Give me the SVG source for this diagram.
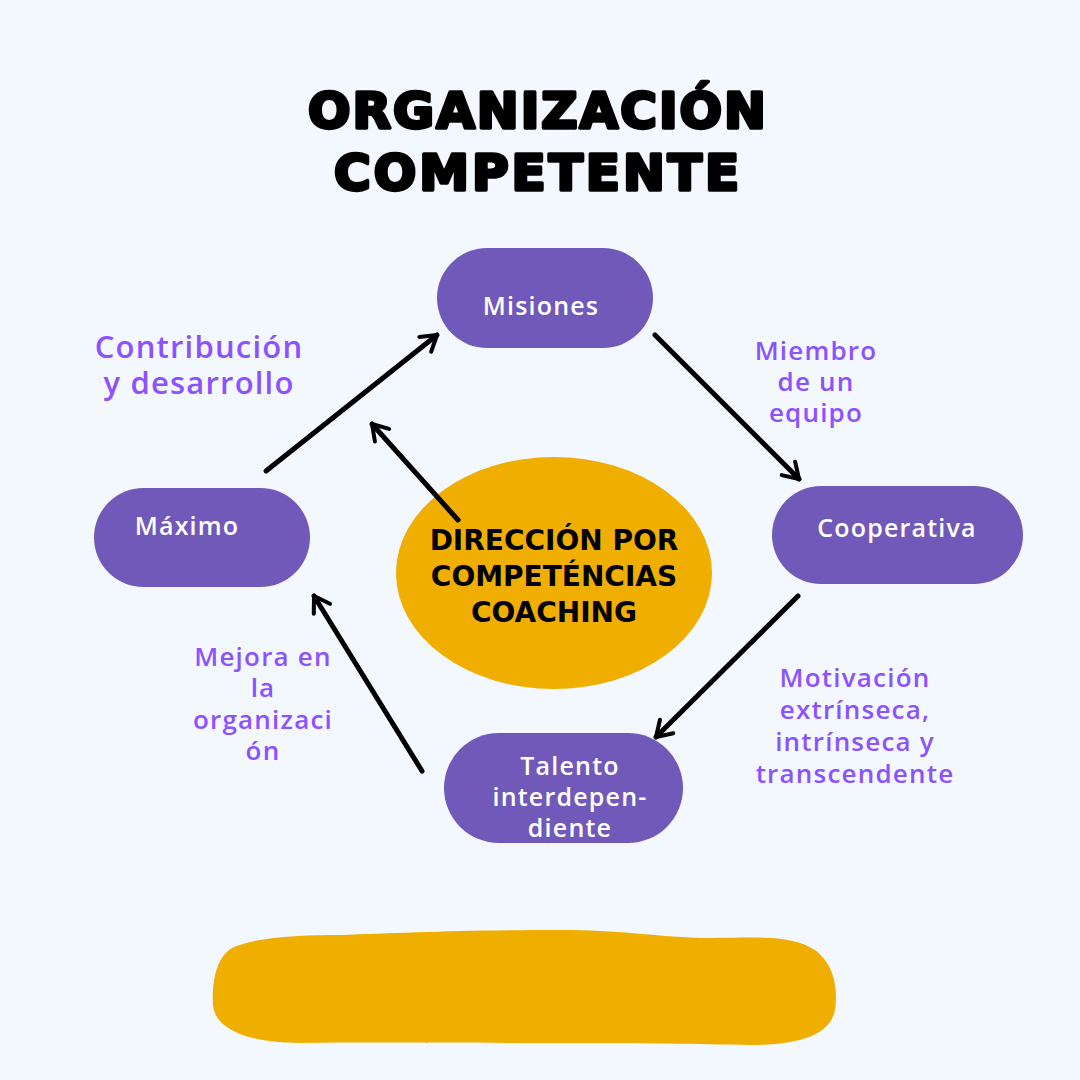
<svg xmlns="http://www.w3.org/2000/svg" width="1080" height="1080" viewBox="0 0 1080 1080">
<style>
.title{font-family:"DejaVu Sans","Liberation Sans",sans-serif;font-weight:bold;font-size:50px;fill:#000;stroke:#000;stroke-width:3.5;stroke-linejoin:round;text-anchor:middle;letter-spacing:2px}
.node{fill:#7159BA}
.nt{font-family:"Open Sans","Liberation Sans",sans-serif;font-size:25px;fill:#fff;text-anchor:middle;font-weight:600;letter-spacing:1.2px}
.lbl{font-family:"Open Sans","Liberation Sans",sans-serif;font-size:26px;fill:#8C52FF;text-anchor:middle;font-weight:600;letter-spacing:1.2px}
.big{font-size:31px}
.ct{font-family:"DejaVu Sans","Liberation Sans",sans-serif;font-weight:bold;font-size:28px;fill:#000;text-anchor:middle}
.arr{stroke:#000;stroke-width:5;stroke-linecap:round;fill:none;marker-end:url(#ah)}
</style>
<defs>
<marker id="ah" viewBox="0 0 10 10" refX="8" refY="5" markerWidth="5" markerHeight="5" orient="auto" markerUnits="strokeWidth">
<path d="M2,1.2 L8,5 L2,8.8" fill="none" stroke="#000" stroke-width="1.6" stroke-linecap="round" stroke-linejoin="round"/>
</marker>
</defs>
<rect width="1080" height="1080" fill="#F3F8FE"/>
<g id="title">
<text class="title" x="538" y="128">ORGANIZACIÓN</text>
<text class="title" x="538" y="190" style="letter-spacing:3px">COMPETENTE</text>
</g>
<g id="center">
<ellipse cx="554" cy="573" rx="158" ry="116" fill="#F0AE00"/>
<text class="ct" x="554" y="550">DIRECCIÓN POR</text>
<text class="ct" x="554" y="586">COMPETÉNCIAS</text>
<text class="ct" x="554" y="622">COACHING</text>
</g>
<g id="misiones">
<rect class="node" x="437" y="248" width="216" height="100" rx="50"/>
<text class="nt" x="541" y="315">Misiones</text>
</g>
<g id="cooperativa">
<rect class="node" x="772" y="486" width="251" height="98" rx="49"/>
<text class="nt" x="897" y="537">Cooperativa</text>
</g>
<g id="maximo">
<rect class="node" x="94" y="488" width="216" height="99" rx="49.5"/>
<text class="nt" x="187" y="535">Máximo</text>
</g>
<g id="talento">
<rect class="node" x="444" y="733" width="239" height="110" rx="55"/>
<text class="nt" x="570" y="775">Talento</text>
<text class="nt" x="570" y="806">interdepen-</text>
<text class="nt" x="570" y="837">diente</text>
</g>
<g id="connectors">
<line class="arr" x1="266" y1="471" x2="437" y2="335"/>
<line class="arr" x1="458" y1="520" x2="372" y2="424"/>
<line class="arr" x1="655" y1="335" x2="799" y2="479"/>
<line class="arr" x1="798" y1="596" x2="656" y2="737"/>
<line class="arr" x1="422" y1="771" x2="314" y2="596"/>
</g>
<g id="labels">
<text class="lbl big" x="199" y="358">Contribución</text>
<text class="lbl big" x="199" y="394">y desarrollo</text>
<text class="lbl" x="816" y="360">Miembro</text>
<text class="lbl" x="816" y="391">de un</text>
<text class="lbl" x="816" y="422">equipo</text>
<text class="lbl" x="263" y="666">Mejora en</text>
<text class="lbl" x="263" y="697">la</text>
<text class="lbl" x="263" y="729">organizaci</text>
<text class="lbl" x="263" y="760">ón</text>
<text class="lbl" x="855" y="687">Motivación</text>
<text class="lbl" x="855" y="719">extrínseca,</text>
<text class="lbl" x="855" y="751">intrínseca y</text>
<text class="lbl" x="855" y="783">transcendente</text>
</g>
<g id="blob">
<path d="M232,948 C255,937 300,935 340,935 C400,933 460,930 560,930 C620,930 650,936 700,938 C760,938 790,934 815,950 C835,965 838,990 835,1010 C830,1035 800,1045 750,1045 C700,1044 640,1043 560,1043 C450,1043 380,1042 300,1043 C250,1043 215,1030 213,1005 C212,985 215,958 232,948 Z" fill="#F0AE00"/>
</g>
</svg>
